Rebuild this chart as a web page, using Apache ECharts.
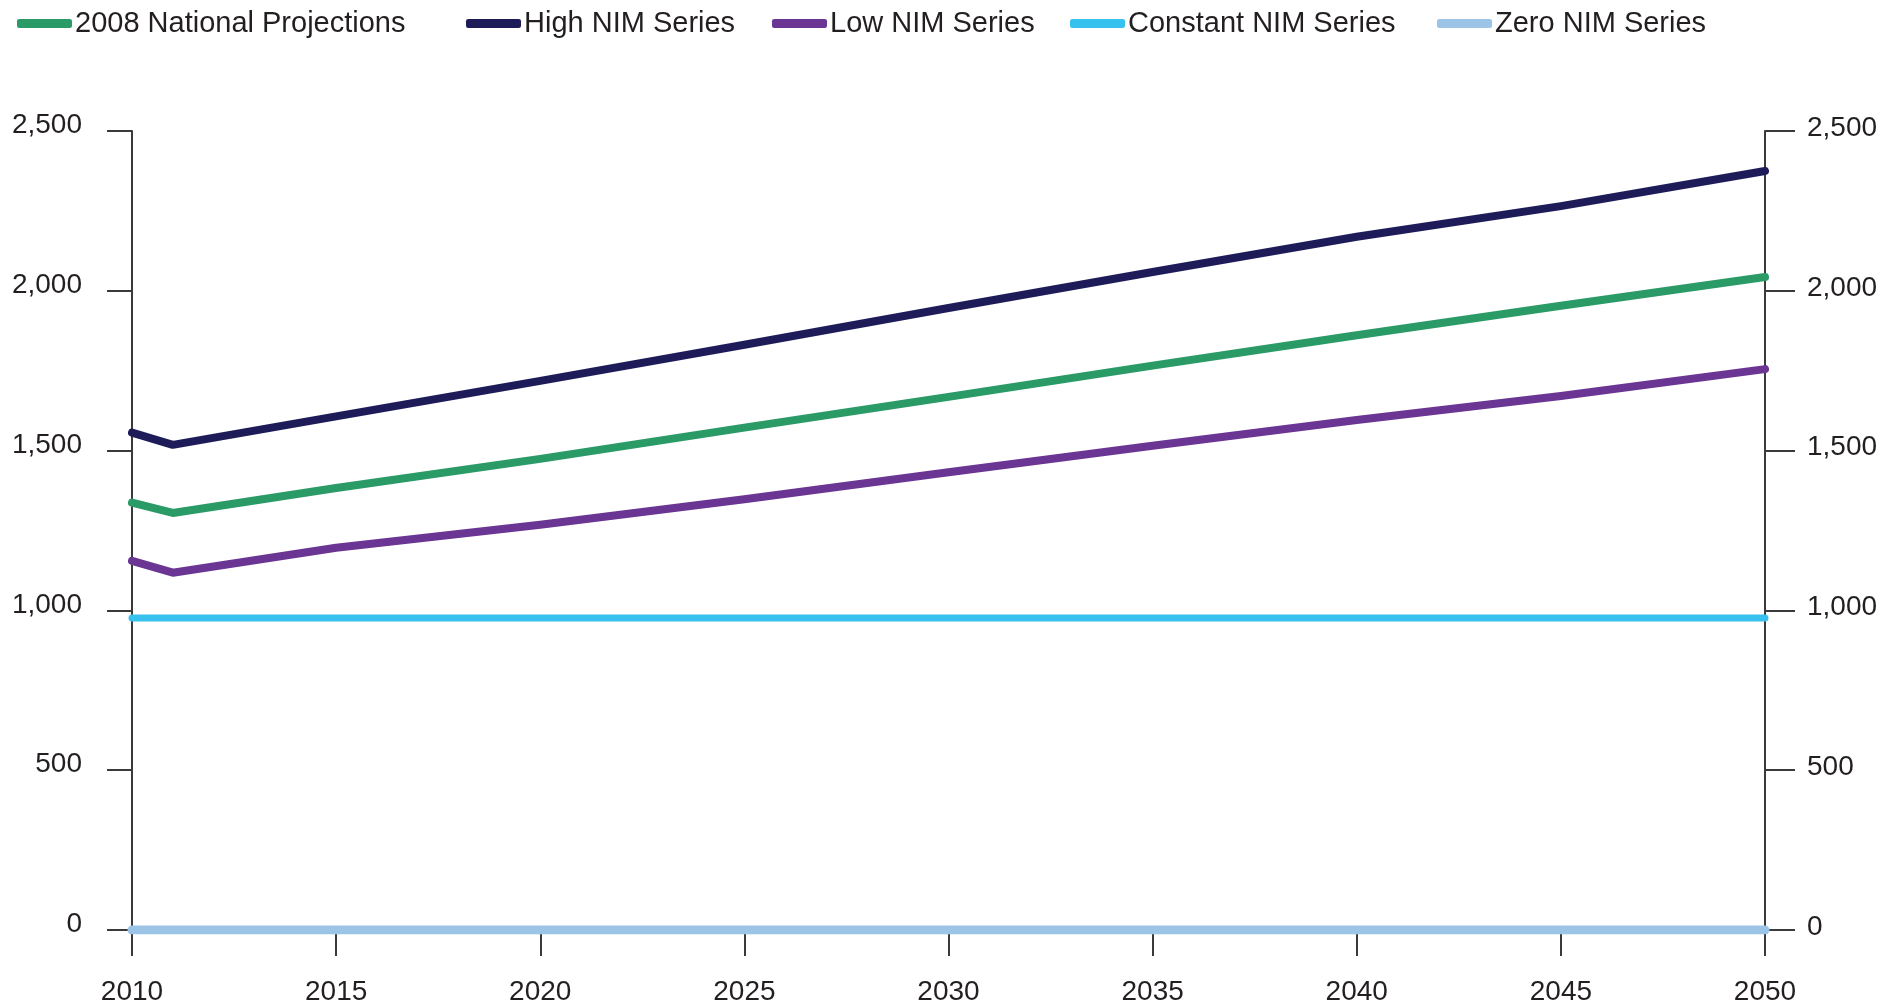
<!DOCTYPE html>
<html>
<head>
<meta charset="utf-8">
<script src="https://cdn.jsdelivr.net/npm/echarts@6/dist/echarts.min.js"></script>
<style>html,body{margin:0;padding:0;background:#fff}#c{width:1904px;height:1007px}</style>
</head>
<body>
<div id="c"></div>
<script>
var seriesNames = ['2008 National Projections', 'High NIM Series', 'Low NIM Series', 'Constant NIM Series', 'Zero NIM Series'];
var years = [2010, 2011, 2015, 2020, 2025, 2030, 2035, 2040, 2045, 2050];
var national = [1337, 1305, 1383, 1474, 1572, 1668, 1766, 1861, 1953, 2043];
var highNIM = [1556, 1518, 1607, 1718, 1831, 1946, 2059, 2169, 2265, 2375];
var lowNIM = [1155, 1118, 1196, 1268, 1348, 1432, 1515, 1596, 1671, 1755];
var constantNIM = [976, 976, 976, 976, 976, 976, 976, 976, 976, 976];
var zeroNIM = [0, 0, 0, 0, 0, 0, 0, 0, 0, 0];
var yTicks = [0, 500, 1000, 1500, 2000, 2500];
var xTicks = [2010, 2015, 2020, 2025, 2030, 2035, 2040, 2045, 2050];

var colors = ['#2a9a66', '#1e1c58', '#6a3593', '#36c1ef', '#9cc4e6'];
var values = [national, highNIM, lowNIM, constantNIM, zeroNIM];
var widths = [8, 8, 8, 7, 9];
var legendLeft = [12, 461, 767, 1065, 1432];

function pairs(arr) { return years.map(function (y, i) { return [y, arr[i]]; }); }

var textColor = '#231f20';
var axisColor = '#3a3a3a';
var font = 'Liberation Sans, Arial, sans-serif';

var legends = seriesNames.map(function (n, i) {
  return {
    data: [n], left: legendLeft[i], top: 4, icon: 'roundRect',
    itemWidth: 55, itemHeight: 9, itemGap: 0,
    textStyle: { fontSize: 29, color: textColor, fontFamily: font, padding: [0, 0, 0, -2] }
  };
});

function yAxis(pos, tickLen, margin, lh) {
  return {
    type: 'value', position: pos, min: 0, max: 2500, interval: 500,
    axisLine: { show: true, lineStyle: { color: axisColor, width: 2 } },
    axisTick: { show: true, inside: false, length: tickLen, lineStyle: { color: axisColor, width: 2 } },
    splitLine: { show: false },
    axisLabel: {
      margin: margin, fontSize: 28, color: textColor, fontFamily: font,
      verticalAlign: 'bottom', lineHeight: lh,
      formatter: function (v) { return yTicks.indexOf(v) >= 0 ? v.toLocaleString('en-US') : ''; }
    }
  };
}

var chart = echarts.init(document.getElementById('c'), null, { renderer: 'canvas' });
chart.setOption({
  animation: false,
  backgroundColor: '#ffffff',
  legend: legends,
  grid: { left: 132, right: 139, top: 131, bottom: 77, containLabel: false },
  xAxis: {
    type: 'value', min: 2010, max: 2050, interval: 5,
    axisLine: { show: false },
    axisTick: { show: true, length: 26, lineStyle: { color: axisColor, width: 2 } },
    splitLine: { show: false },
    axisLabel: {
      margin: 48, fontSize: 28, color: textColor, fontFamily: font,
      formatter: function (v) { return xTicks.indexOf(v) >= 0 ? String(v) : ''; }
    }
  },
  yAxis: [yAxis('left', 25, 50, 11), yAxis('right', 30, 42, 6)],
  series: seriesNames.map(function (n, i) {
    return {
      name: n, type: 'line', data: pairs(values[i]), yAxisIndex: 0,
      symbol: 'none', smooth: false, z: 2 + i,
      lineStyle: { color: colors[i], width: widths[i], cap: 'round', join: 'round' },
      itemStyle: { color: colors[i] }
    };
  })
});
</script>
</body>
</html>
